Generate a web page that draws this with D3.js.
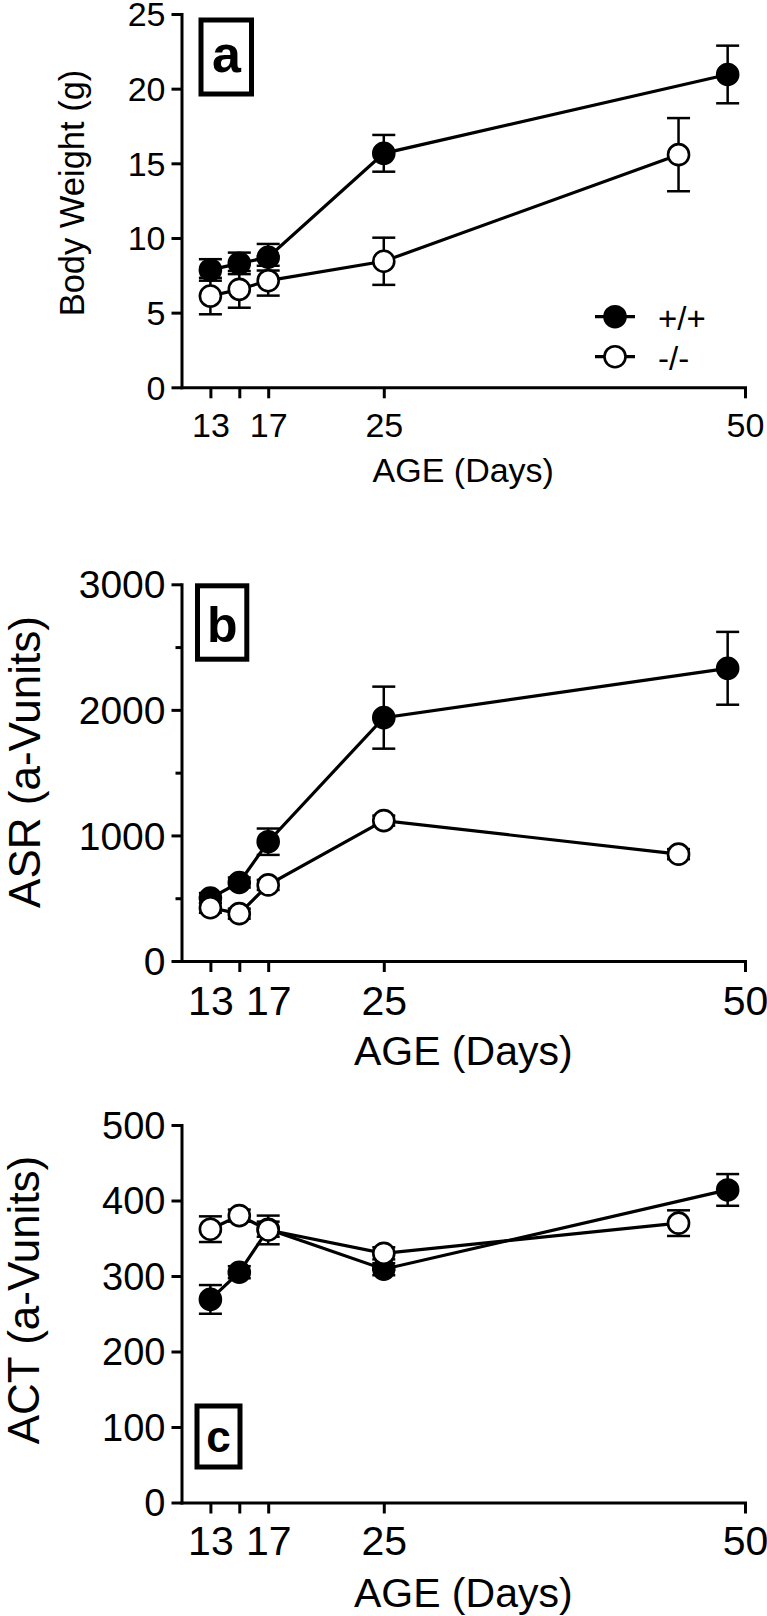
<!DOCTYPE html>
<html>
<head>
<meta charset="utf-8">
<script src="https://cdn.jsdelivr.net/npm/d3@7/dist/d3.min.js"></script>
<style>
  html, body { margin: 0; padding: 0; background: #fff; }
  svg { display: block; }
  text { font-family: "Liberation Sans", Arial, sans-serif; fill: #000; }
</style>
</head>
<body>
<svg id="chart" width="767" height="1616"></svg>
<script>
// ---------------- data ----------------
const daysWT = [13, 15, 17, 25, 48.8];
const daysKO = [13, 15, 17, 25, 45.4];
const xTickValues = [13, 15, 17, 25, 50];
const xTickLabels = ["13", "", "17", "25", "50"];
const seriesNames = ["+/+", "-/-"];

const weightWT    = [7.86, 8.3, 8.71, 15.67, 20.95];
const weightWTErr = [0.72, 0.72, 0.89, 1.23, 1.93];
const weightKO    = [6.11, 6.56, 7.14, 8.44, 15.58];
const weightKOErr = [1.22, 1.23, 1.0, 1.58, 2.45];
const weightTicks = [0, 5, 10, 15, 20, 25];

const asrWT    = [501, 625, 950, 1938, 2331];
const asrWTErr = [40, 40, 105, 247, 290];
const asrKO    = [424, 377, 606, 1118, 851];
const asrKOErr = [40, 40, 40, 40, 40];
const asrTicks = [0, 1000, 2000, 3000];
const asrMinorTicks = [500, 1500, 2500];

const actWT    = [269, 305, 362, 309, 414];
const actWTErr = [19, 8, 10, 8, 21];
const actKO    = [362, 380, 361, 330, 370];
const actKOErr = [17, 8, 19, 8, 17];
const actTicks = [0, 100, 200, 300, 400, 500];

// ---------------- layout ----------------
const svg = d3.select("#chart");
const X0 = 181.5, X1 = 745;

const panels = [
  { id: "a", top: 14, bottom: 387.3, yMax: 25, ticks: weightTicks, minor: [],
    wt: weightWT, wtErr: weightWTErr, ko: weightKO, koErr: weightKOErr,
    yTitle: "Body Weight (g)", yTitleSize: 34.5, yTitleX: 84, yTitleY: 193,
    yTickSize: 34, xTickSize: 34, xTickBase: 50,
    xTitleSize: 34, xTitleBase: 481.7,
    box: { x0: 201, x1: 251.5, y0: 20, y1: 94, cx: 226.5, base: 72, size: 52 },
    legend: true },
  { id: "b", top: 584.3, bottom: 961, yMax: 3000, ticks: asrTicks, minor: asrMinorTicks,
    wt: asrWT, wtErr: asrWTErr, ko: asrKO, koErr: asrKOErr,
    yTitle: "ASR (a-Vunits)", yTitleSize: 44, yTitleX: 40, yTitleY: 762,
    yTickSize: 39, xTickSize: 41, xTickBase: 54,
    xTitleSize: 41, xTitleBase: 1065,
    box: { x0: 197.5, x1: 246.8, y0: 585.8, y1: 659.2, cx: 222.2, base: 641.7, size: 50 },
    legend: false },
  { id: "c", top: 1125, bottom: 1502.5, yMax: 500, ticks: actTicks, minor: [],
    wt: actWT, wtErr: actWTErr, ko: actKO, koErr: actKOErr,
    yTitle: "ACT (a-Vunits)", yTitleSize: 44, yTitleX: 39, yTitleY: 1300,
    yTickSize: 38, xTickSize: 41, xTickBase: 52,
    xTitleSize: 41, xTitleBase: 1606.7,
    box: { x0: 197, x1: 240, y0: 1406, y1: 1467, cx: 218.5, base: 1452, size: 44 },
    legend: false }
];

const x = d3.scaleLinear().domain([11, 50]).range([X0, X1]);
const R = 10.5;

panels.forEach(p => {
  const y = d3.scaleLinear().domain([0, p.yMax]).range([p.bottom, p.top]);
  const g = svg.append("g").attr("class", "panel-" + p.id);

  // y axis
  const yAxis = g.append("g")
    .attr("transform", `translate(${X0},0)`)
    .call(d3.axisLeft(y).tickValues(p.ticks).tickSize(10).tickSizeOuter(0)
      .tickFormat(d3.format("d")));
  yAxis.select(".domain").attr("stroke-width", 3).attr("stroke-linecap", "square");
  yAxis.selectAll(".tick line").attr("stroke-width", 3);
  yAxis.selectAll(".tick text")
    .attr("x", -16).attr("dy", "0.35em")
    .style("font-size", p.yTickSize + "px");
  if (p.minor.length) {
    const yMinor = g.append("g")
      .attr("transform", `translate(${X0},0)`)
      .call(d3.axisLeft(y).tickValues(p.minor).tickSize(6).tickFormat(""));
    yMinor.select(".domain").remove();
    yMinor.selectAll(".tick line").attr("stroke-width", 3);
  }

  // x axis
  const xAxis = g.append("g")
    .attr("transform", `translate(0,${p.bottom})`)
    .call(d3.axisBottom(x).tickValues(xTickValues).tickSize(11).tickSizeOuter(0)
      .tickFormat((d, i) => xTickLabels[i]));
  xAxis.select(".domain").attr("stroke-width", 3).attr("stroke-linecap", "square");
  xAxis.selectAll(".tick line").attr("stroke-width", 3);
  xAxis.selectAll(".tick text")
    .attr("y", p.xTickBase).attr("dy", 0)
    .style("font-size", p.xTickSize + "px");

  // titles
  g.append("text")
    .attr("transform", `translate(${p.yTitleX},${p.yTitleY}) rotate(-90)`)
    .attr("text-anchor", "middle")
    .style("font-size", p.yTitleSize + "px")
    .text(p.yTitle);
  g.append("text")
    .attr("x", (X0 + X1) / 2).attr("y", p.xTitleBase)
    .attr("text-anchor", "middle")
    .style("font-size", p.xTitleSize + "px")
    .text("AGE (Days)");

  // panel label box
  g.append("rect")
    .attr("x", p.box.x0).attr("y", p.box.y0)
    .attr("width", p.box.x1 - p.box.x0).attr("height", p.box.y1 - p.box.y0)
    .attr("fill", "none").attr("stroke", "#000").attr("stroke-width", 5);
  g.append("text")
    .attr("x", p.box.cx).attr("y", p.box.base)
    .attr("text-anchor", "middle")
    .style("font-size", p.box.size + "px").style("font-weight", "bold")
    .text(p.id);

  const series = [
    { days: daysWT, vals: p.wt, errs: p.wtErr, fill: "#000" },
    { days: daysKO, vals: p.ko, errs: p.koErr, fill: "#fff" }
  ];

  const line = d3.line().x(d => x(d[0])).y(d => y(d[1]));

  // error bars
  series.forEach(s => {
    const eg = g.append("g").attr("stroke", "#000").attr("stroke-width", 2.5);
    s.vals.forEach((v, i) => {
      const cx = x(s.days[i]);
      const yt = y(v + s.errs[i]), yb = y(v - s.errs[i]);
      eg.append("line").attr("x1", cx).attr("x2", cx).attr("y1", yt).attr("y2", yb);
      eg.append("line").attr("x1", cx - 11.5).attr("x2", cx + 11.5).attr("y1", yt).attr("y2", yt);
      eg.append("line").attr("x1", cx - 11.5).attr("x2", cx + 11.5).attr("y1", yb).attr("y2", yb);
    });
  });
  // lines
  series.forEach(s => {
    g.append("path")
      .datum(s.vals.map((v, i) => [s.days[i], v]))
      .attr("d", line)
      .attr("fill", "none").attr("stroke", "#000").attr("stroke-width", 3.2);
  });
  // markers
  series.forEach(s => {
    g.append("g").selectAll("circle")
      .data(s.vals.map((v, i) => [s.days[i], v]))
      .join("circle")
      .attr("cx", d => x(d[0])).attr("cy", d => y(d[1])).attr("r", R)
      .attr("fill", s.fill).attr("stroke", "#000").attr("stroke-width", 2.6);
  });

  // legend
  if (p.legend) {
    const lg = g.append("g");
    const rows = [
      { name: seriesNames[0], fill: "#000", cy: 316.7 },
      { name: seriesNames[1], fill: "#fff", cy: 356.7 }
    ];
    rows.forEach(r => {
      lg.append("line").attr("x1", 595).attr("x2", 635).attr("y1", r.cy).attr("y2", r.cy)
        .attr("stroke", "#000").attr("stroke-width", 3.2);
      lg.append("circle").attr("cx", 615).attr("cy", r.cy).attr("r", R)
        .attr("fill", r.fill).attr("stroke", "#000").attr("stroke-width", 2.6);
      lg.append("text").attr("x", 658).attr("y", r.cy + 13.3)
        .style("font-size", "33px").text(r.name);
    });
  }
});
</script>
</body>
</html>
